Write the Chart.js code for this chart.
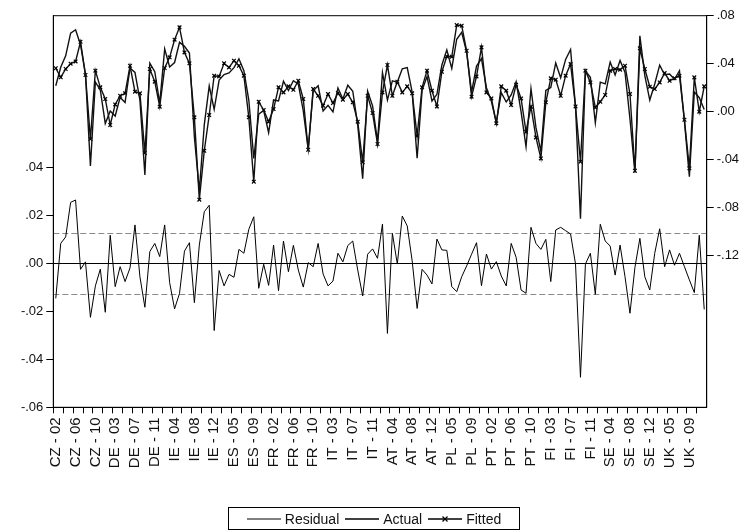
<!DOCTYPE html>
<html>
<head>
<meta charset="utf-8">
<script src="https://cdn.jsdelivr.net/npm/chart.js@4.4.1/dist/chart.umd.min.js"></script>
<style>
  html, body { margin: 0; padding: 0; background: #fff; }
  #wrap { position: relative; width: 751px; height: 532px; }
  #legend {
    position: absolute; left: 228px; top: 507px; width: 292px; height: 23px;
    border: 1px solid #000; box-sizing: border-box;
    display: flex; align-items: center; justify-content: center;
    font: 14px "Liberation Sans", Arial, sans-serif; color: #111;
  }
  .item { display: flex; align-items: center; margin: 0 3px; }
  .item svg { margin-right: 4px; }
</style>
</head>
<body>
<div id="wrap">
  <canvas id="chart" width="751" height="532"></canvas>
  <div id="legend">
    <span class="item"><svg width="34" height="10"><line x1="0" y1="5" x2="34" y2="5" stroke="#000" stroke-width="1"/></svg>Residual</span>
    <span class="item"><svg width="34" height="10"><line x1="0" y1="5" x2="34" y2="5" stroke="#000" stroke-width="1.3"/></svg>Actual</span>
    <span class="item"><svg width="34" height="10"><line x1="0" y1="5" x2="34" y2="5" stroke="#000" stroke-width="1.3"/><path d="M14.5 2.5 L19.5 7.5 M19.5 2.5 L14.5 7.5" stroke="#000" stroke-width="1.2"/></svg>Fitted</span>
  </div>
</div>
<script>
// --- categories: country - period ---
const countries = ['CZ', 'DE', 'IE', 'ES', 'FR', 'IT', 'AT', 'PL', 'PT', 'FI', 'SE', 'UK'];
const periods = ['02', '03', '04', '05', '06', '07', '08', '09', '10', '11', '12'];

// --- series ---
const residual = [
  -0.0146, 0.0083, 0.0110, 0.0254, 0.0264, -0.0025, 0.0006, -0.0225, -0.0094, -0.0024, -0.0204,
  0.0117, -0.0097, -0.0014, -0.0076, -0.0019, 0.0160, -0.0056, -0.0183, 0.0049, 0.0083, 0.0028,
  0.0160, -0.0080, -0.0190, -0.0125, 0.0051, 0.0086, -0.0164, 0.0076, 0.0215, 0.0242, -0.0280,
  -0.0030, -0.0094, -0.0046, -0.0058, 0.0058, 0.0042, 0.0142, 0.0194, -0.0104, -0.0004, -0.0092,
  0.0076, -0.0114, 0.0093, -0.0035, 0.0075, -0.0028, -0.0099, 0.0003, -0.0014, 0.0083, -0.0044,
  -0.0094, -0.0074, 0.0042, 0.0006, 0.0074, 0.0093, -0.0028, -0.0136, 0.0038, 0.0060, 0.0021,
  0.0164, -0.0292, 0.0125, -0.0003, 0.0197, 0.0156, 0.0010, -0.0188, -0.0025, -0.0049, -0.0086,
  0.0101, 0.0056, 0.0054, -0.0097, -0.0118, -0.0056, -0.0011, 0.0038, 0.0086, -0.0093, 0.0039,
  -0.0024, 0.0007, -0.0053, -0.0094, 0.0083, 0.0025, -0.0111, -0.0125, 0.0150, 0.0083, 0.0058,
  0.0100, -0.0076, 0.0139, 0.0150, 0.0136, 0.0122, -0.0003, -0.0475, -0.0003, 0.0042, -0.0129,
  0.0163, 0.0093, 0.0072, -0.0049, 0.0076, -0.0056, -0.0208, -0.0017, 0.0104, -0.0056, -0.0111,
  0.0042, 0.0144, -0.0014, 0.0056, -0.0008, 0.0042, -0.0014, -0.0069, -0.0122, 0.0117, -0.0192
];
const actual = [
  0.0216, 0.0370, 0.0466, 0.0654, 0.0683, 0.0558, 0.0312, -0.0453, 0.0248, 0.0179, -0.0098,
  0.0006, -0.0036, 0.0119, 0.0077, 0.0364, 0.0327, 0.0097, -0.0527, 0.0405, 0.0333, 0.0070,
  0.0524, 0.0373, 0.0410, 0.0578, 0.0545, 0.0489, -0.0211, -0.0657, -0.0110, 0.0214, 0.0020,
  0.0264, 0.0309, 0.0323, 0.0367, 0.0441, 0.0342, 0.0095, -0.0389, -0.0021, 0.0010, -0.0175,
  0.0098, 0.0089, 0.0254, 0.0176, 0.0258, 0.0230, 0.0007, -0.0314, 0.0175, 0.0216, 0.0006,
  0.0053, -0.0002, 0.0198, 0.0106, 0.0221, 0.0171, -0.0111, -0.0558, 0.0171, 0.0049, -0.0248,
  0.0325, 0.0097, 0.0258, 0.0247, 0.0358, 0.0367, 0.0163, -0.0388, 0.0178, 0.0293, 0.0089,
  0.0145, 0.0389, 0.0515, 0.0361, 0.0604, 0.0661, 0.0497, 0.0163, 0.0380, 0.0443, 0.0200,
  0.0087, -0.0090, 0.0158, 0.0081, 0.0139, 0.0250, 0.0000, -0.0292, 0.0192, -0.0131, -0.0331,
  0.0178, 0.0202, 0.0406, 0.0283, 0.0436, 0.0519, 0.0041, -0.0892, 0.0339, 0.0286, -0.0093,
  0.0246, 0.0232, 0.0414, 0.0307, 0.0426, 0.0327, -0.0061, -0.0509, 0.0632, 0.0300, 0.0097,
  0.0231, 0.0388, 0.0308, 0.0314, 0.0270, 0.0342, -0.0081, -0.0541, 0.0164, 0.0117, 0.0019
];
const fitted = [
  0.0362, 0.0287, 0.0356, 0.0400, 0.0419, 0.0583, 0.0306, -0.0228, 0.0342, 0.0203, 0.0106,
  -0.0111, 0.0061, 0.0133, 0.0153, 0.0383, 0.0167, 0.0153, -0.0344, 0.0356, 0.0250, 0.0042,
  0.0364, 0.0453, 0.0600, 0.0703, 0.0494, 0.0403, -0.0047, -0.0733, -0.0325, -0.0028, 0.0300,
  0.0294, 0.0403, 0.0369, 0.0425, 0.0383, 0.0300, -0.0047, -0.0583, 0.0083, 0.0014, -0.0083,
  0.0022, 0.0203, 0.0161, 0.0211, 0.0183, 0.0258, 0.0106, -0.0317, 0.0189, 0.0133, 0.0050,
  0.0147, 0.0072, 0.0156, 0.0100, 0.0147, 0.0078, -0.0083, -0.0422, 0.0133, -0.0011, -0.0269,
  0.0161, 0.0389, 0.0133, 0.0250, 0.0161, 0.0211, 0.0153, -0.0200, 0.0203, 0.0342, 0.0175,
  0.0044, 0.0333, 0.0461, 0.0458, 0.0722, 0.0717, 0.0508, 0.0125, 0.0294, 0.0536, 0.0161,
  0.0111, -0.0097, 0.0211, 0.0175, 0.0056, 0.0225, 0.0111, -0.0167, 0.0042, -0.0214, -0.0389,
  0.0078, 0.0278, 0.0267, 0.0133, 0.0300, 0.0397, 0.0044, -0.0417, 0.0342, 0.0244, 0.0036,
  0.0083, 0.0139, 0.0342, 0.0356, 0.0350, 0.0383, 0.0147, -0.0492, 0.0528, 0.0356, 0.0208,
  0.0189, 0.0244, 0.0322, 0.0258, 0.0278, 0.0300, -0.0067, -0.0472, 0.0286, 0.0000, 0.0211
];

// --- axis ticks and reference lines ---
const leftTicks = [-0.06, -0.04, -0.02, 0.00, 0.02, 0.04];
const rightTicks = [-0.12, -0.08, -0.04, 0.00, 0.04, 0.08];
const zeroLine = 0;
const residualBands = [0.0126, -0.0126];

const labels = [];
countries.forEach(c => periods.forEach(p => labels.push(`${c} - ${p}`)));

function fmt(v) {
  const s = Math.abs(v).toFixed(2).replace(/^0/, '');
  return (v < -1e-9 ? '-' : '') + s;
}

const FONT = '"Liberation Sans", Arial, sans-serif';

// zero / +-1 s.e. lines behind the series, frame round the plot
const refLines = {
  id: 'refLines',
  beforeDatasetsDraw(chart) {
    const { ctx, chartArea: a, scales } = chart;
    const y = scales.yL;
    ctx.save();
    ctx.lineWidth = 1;
    ctx.strokeStyle = '#8a8a8a';
    ctx.setLineDash([6, 3]);
    residualBands.forEach(v => {
      const py = Math.round(y.getPixelForValue(v)) + 0.5;
      ctx.beginPath(); ctx.moveTo(a.left, py); ctx.lineTo(a.right, py); ctx.stroke();
    });
    ctx.setLineDash([]);
    ctx.strokeStyle = '#000';
    const pz = Math.round(y.getPixelForValue(zeroLine)) + 0.5;
    ctx.beginPath(); ctx.moveTo(a.left, pz); ctx.lineTo(a.right, pz); ctx.stroke();
    ctx.restore();
  },
  afterDraw(chart) {
    const { ctx, chartArea: a } = chart;
    ctx.save();
    ctx.strokeStyle = '#000';
    ctx.lineWidth = 1;
    ctx.strokeRect(a.left, a.top, a.right - a.left, a.bottom - a.top);
    ctx.restore();
  }
};

new Chart(document.getElementById('chart').getContext('2d'), {
  type: 'line',
  data: {
    labels: labels,
    datasets: [
      {
        label: 'Residual', data: residual, yAxisID: 'yL',
        borderColor: '#000', borderWidth: 1, pointRadius: 0, tension: 0
      },
      {
        label: 'Actual', data: actual, yAxisID: 'yR',
        borderColor: '#111', borderWidth: 1.4, pointRadius: 0, tension: 0
      },
      {
        label: 'Fitted', data: fitted, yAxisID: 'yR',
        borderColor: '#111', borderWidth: 1.4, tension: 0,
        pointStyle: 'crossRot', pointRadius: 2.6, pointBorderWidth: 1.2,
        pointBorderColor: '#000', pointBackgroundColor: '#000'
      }
    ]
  },
  options: {
    responsive: false,
    animation: false,
    devicePixelRatio: 1,
    layout: { padding: { top: 15.7, left: 0, right: 0, bottom: 0 } },
    plugins: { legend: { display: false }, tooltip: { enabled: false } },
    scales: {
      x: {
        type: 'category',
        offset: true,
        grid: {
          offset: true, drawOnChartArea: false, drawTicks: true, tickLength: 6,
          color: c => (c.index % 2 === 0 ? '#000' : 'rgba(0,0,0,0)')
        },
        border: { color: '#000', width: 1 },
        ticks: {
          autoSkip: false, maxRotation: 90, minRotation: 90, padding: 4,
          color: '#111', font: { family: FONT, size: 15 },
          callback: (v, i) => (i % 4 === 0 ? labels[i] : '')
        },
        afterFit: s => { s.height = 124.7; }
      },
      yL: {
        position: 'left', min: -0.06, max: 0.1032,
        grid: { drawOnChartArea: false, tickLength: 7, color: '#000' },
        border: { color: '#000', width: 1 },
        afterBuildTicks: s => { s.ticks = leftTicks.map(v => ({ value: v })); },
        ticks: { padding: 3, color: '#111', font: { family: FONT, size: 13 }, callback: v => fmt(v) },
        afterFit: s => { s.width = 53.3; }
      },
      yR: {
        position: 'right', min: -0.2463, max: 0.08,
        grid: { drawOnChartArea: false, tickLength: 7, color: '#000' },
        border: { color: '#000', width: 1 },
        afterBuildTicks: s => { s.ticks = rightTicks.map(v => ({ value: v })); },
        ticks: { padding: 3, color: '#111', font: { family: FONT, size: 13 }, callback: v => fmt(v) },
        afterFit: s => { s.width = 44.3; }
      }
    }
  },
  plugins: [refLines]
});
</script>
</body>
</html>
